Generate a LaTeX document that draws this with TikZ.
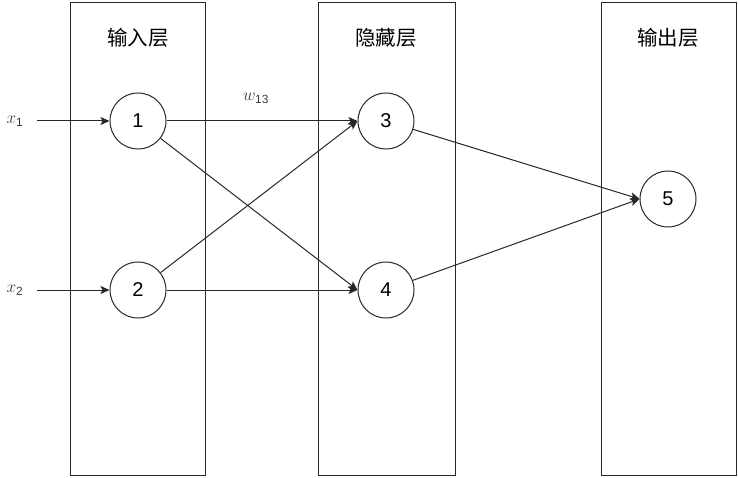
\documentclass[tikz,border=0pt]{standalone}
\usepackage{amsmath}
\usepackage{fontspec}
\newfontfamily\cjkfont{Noto Sans CJK SC}
\newfontfamily\helvfont{Liberation Sans}
\definecolor{nnline}{RGB}{40,40,40}
\definecolor{nntext}{RGB}{60,60,60}
\usetikzlibrary{arrows.meta}

\begin{document}
\begin{tikzpicture}[x=1pt,y=-1pt,
  layerbox/.style={draw=nnline,line width=1pt},
  neuron/.style={circle,draw=nnline,line width=1pt,minimum size=56pt,inner sep=0pt,
    font=\helvfont\fontsize{20}{20}\selectfont},
  layertitle/.style={font=\cjkfont\fontsize{20.5}{21}\selectfont},
  varlabel/.style={text=nntext,font=\fontsize{17}{17}\selectfont},
  wire/.style={draw=nnline,line width=1pt,-{Stealth[length=9pt,width=8pt,inset=2pt]}}]
  \useasboundingbox (0,0) rectangle (738,478);
  % layers
  \draw[layerbox] (70,3) rectangle (205,475);
  \draw[layerbox] (318,3) rectangle (455,475);
  \draw[layerbox] (601,3) rectangle (736,475);
  \node[layertitle] (tin) at (138,38) {输入层};
  \node[layertitle] (thid) at (386,38) {隐藏层};
  \node[layertitle] (tout) at (668,38) {输出层};
  % neurons
  \node[neuron] (n1) at (138,121) {1};
  \node[neuron] (n2) at (138,290) {2};
  \node[neuron] (n3) at (386,121) {3};
  \node[neuron] (n4) at (386,290) {4};
  \node[neuron] (n5) at (668,199) {5};
  % inputs
  \node[varlabel] (lx1) at (15,121) {$x_{\text{\helvfont 1}}$};
  \node[varlabel] (lx2) at (15,290) {$x_{\text{\helvfont 2}}$};
  \coordinate (in1) at (37,121);
  \coordinate (in2) at (37,290);
  \draw[wire] (in1) -- (n1);
  \draw[wire] (in2) -- (n2);
  % weights
  \draw[wire] (n1) -- (n3.west) node[varlabel,midway,above=14pt,xshift=-6pt] (w13) {$w_{\text{\helvfont 13}}$};
  \draw[wire] (n1) -- (n4.west);
  \draw[wire] (n2) -- (n3.west);
  \draw[wire] (n2) -- (n4.west);
  \draw[wire] (n3) -- (n5.west);
  \draw[wire] (n4) -- (n5.west);
\end{tikzpicture}
\end{document}
